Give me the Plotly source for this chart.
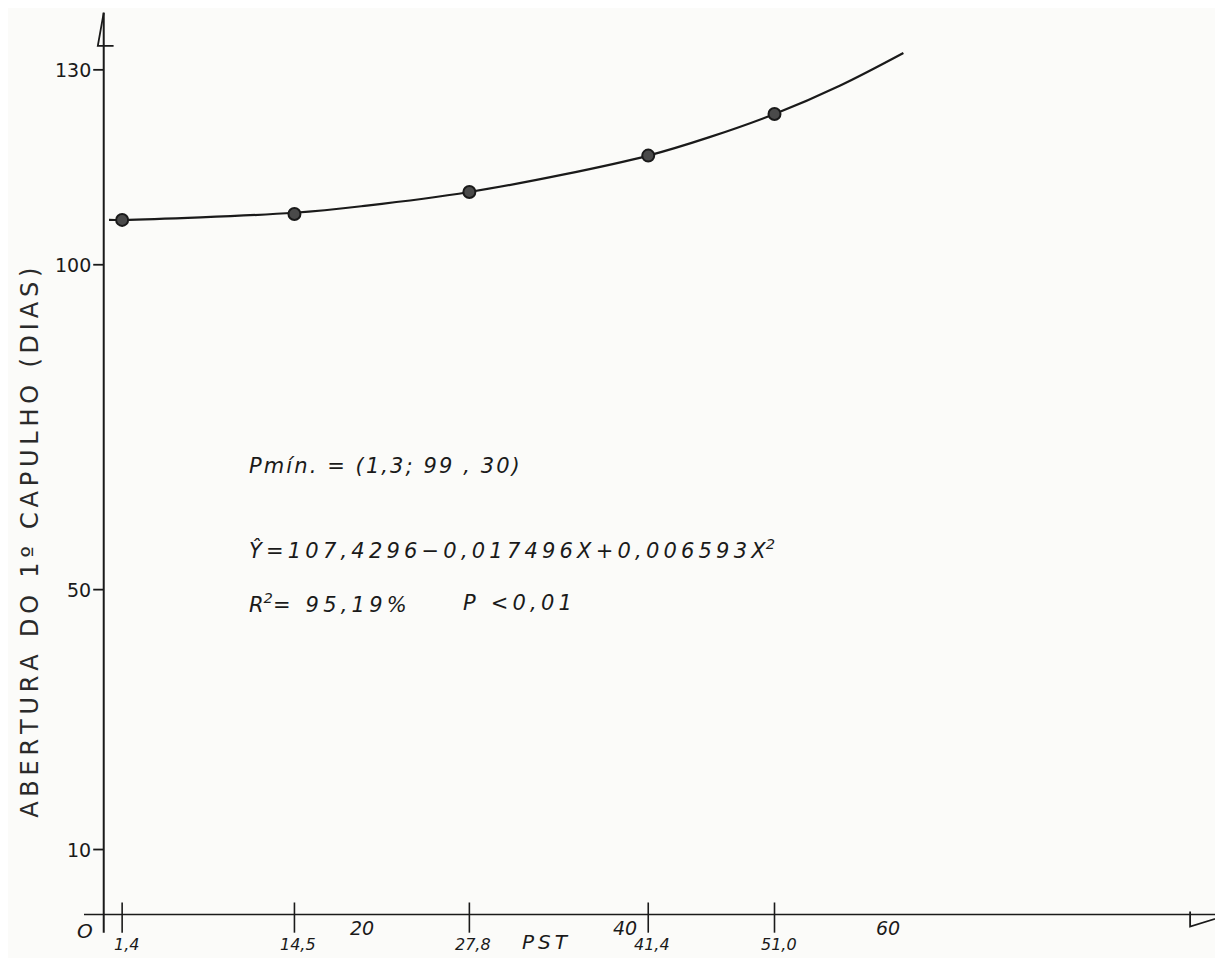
import plotly.graph_objects as go

# ---- data ----
pst = [1.4, 14.5, 27.8, 41.4, 51.0]
pst_labels = ["1,4", "14,5", "27,8", "41,4", "51,0"]
dias = [106.9, 107.8, 111.2, 116.8, 123.2]

curve_x = [0.4, 1.4, 14.5, 20.0, 27.8, 35.0, 41.4, 46.0, 51.0, 56.0, 60.8]
curve_y = [106.9, 106.9, 108.0, 109.1, 111.2, 113.9, 116.8, 119.6, 123.2, 127.6, 132.6]

y_ticks = [10, 50, 100, 130]
y_tick_labels = ["10", "50", "100", "130"]
x_round = [20, 40, 60]
x_round_labels = ["20", "40", "60"]

FONT = "DejaVu Sans"
INK = "#1a1a1a"
THIN = "\u2009"
HAIR = "\u200a"


def sp(s, gap=THIN):
    return gap.join(list(s))


fig = go.Figure()

fig.add_trace(go.Scatter(
    x=curve_x, y=curve_y, mode="lines",
    line=dict(color=INK, width=2.2, shape="spline", smoothing=1.0),
    hoverinfo="skip", showlegend=False))

fig.add_trace(go.Scatter(
    x=pst, y=dias, mode="markers",
    marker=dict(size=12, color="#4a4a4a", line=dict(color=INK, width=2)),
    showlegend=False))

shapes = []
# axes
shapes.append(dict(type="line", xref="x", yref="y", x0=-1.5, y0=0, x1=85.1, y1=0,
                   line=dict(color=INK, width=1.6)))
shapes.append(dict(type="line", xref="x", yref="y", x0=0, y0=-2.8, x1=0, y1=138.8,
                   line=dict(color=INK, width=2)))
# arrow heads (half arrows, hand drawn style)
shapes.append(dict(type="path", xref="x", yref="y",
                   path="M 82.6 0.45 L 82.6 -1.85 L 85.1 -0.3",
                   line=dict(color=INK, width=1.8)))
shapes.append(dict(type="path", xref="x", yref="y",
                   path="M 0 138.8 L -0.45 133.7 L 0.75 133.7",
                   line=dict(color=INK, width=1.8)))
# x tick marks crossing the axis
for xv in pst:
    shapes.append(dict(type="line", xref="x", yref="y", x0=xv, y0=1.85, x1=xv, y1=-2.8,
                       line=dict(color=INK, width=1.6)))
# y tick marks
for yv in y_ticks:
    shapes.append(dict(type="line", xref="x", yref="y", x0=-0.8, y0=yv, x1=0, y1=yv,
                       line=dict(color=INK, width=1.8)))

ann = []
for yv, lab in zip(y_ticks, y_tick_labels):
    ann.append(dict(x=-0.85, y=yv, xref="x", yref="y", text=lab, showarrow=False,
                    xanchor="right", yanchor="middle",
                    font=dict(family=FONT, size=19, color=INK)))
for xv, lab in zip(pst, pst_labels):
    ann.append(dict(x=xv, y=-2.9, xref="x", yref="y", text=f"<i>{lab}</i>", showarrow=False,
                    xanchor="center", yanchor="middle", xshift=4, yshift=-11,
                    font=dict(family=FONT, size=16, color=INK)))
for xv, lab in zip(x_round, x_round_labels):
    ann.append(dict(x=xv, y=-2.0, xref="x", yref="y", text=f"<i>{lab}</i>", showarrow=False,
                    xanchor="center", yanchor="middle", xshift=-5,
                    font=dict(family=FONT, size=19, color=INK)))
ann.append(dict(x=-1.45, y=-2.6, xref="x", yref="y", text="<i>O</i>", showarrow=False,
                xanchor="center", yanchor="middle",
                font=dict(family=FONT, size=20, color=INK)))
ann.append(dict(x=33.6, y=-2.9, xref="x", yref="y", text="<i>" + sp("PST") + "</i>",
                showarrow=False, xanchor="center", yanchor="middle", yshift=-9,
                font=dict(family=FONT, size=20, color=INK)))

# y axis title (anchored at the left edge of the plot, shifted into the margin)
ann.append(dict(x=-1.5, y=57.2, xref="x", yref="y",
                text=sp("ABERTURA DO 1º CAPULHO (DIAS)", THIN),
                showarrow=False, textangle=-90, xanchor="center", yanchor="middle",
                xshift=-54,
                font=dict(family=FONT, size=24, color="#2a2a2a")))

# equation block
ann.append(dict(x=10.9, y=69.0, xref="x", yref="y",
                text="<i>" + sp("Pmín. = (1,3; 99 , 30)", HAIR) + "</i>",
                showarrow=False, xanchor="left", yanchor="middle",
                font=dict(family=FONT, size=21, color=INK)))
ann.append(dict(x=10.9, y=56.3, xref="x", yref="y",
                text="<i>" + sp("Ŷ=107,4296−0,017496X+0,006593X") + "<sup>2</sup></i>",
                showarrow=False, xanchor="left", yanchor="middle",
                font=dict(family=FONT, size=21, color=INK)))
ann.append(dict(x=10.9, y=48.0, xref="x", yref="y",
                text="<i>R<sup>2</sup>" + sp("= 95,19%") + "</i>",
                showarrow=False, xanchor="left", yanchor="middle",
                font=dict(family=FONT, size=21, color=INK)))
ann.append(dict(x=27.2, y=48.0, xref="x", yref="y",
                text="<i>" + sp("P <0,01") + "</i>",
                showarrow=False, xanchor="left", yanchor="middle",
                font=dict(family=FONT, size=21, color=INK)))

# The page body adds an 8px margin; size the figure so the plot lands where the reference has it.
fig.update_layout(
    width=1215, height=950,
    margin=dict(l=76, r=0, t=4, b=24),
    paper_bgcolor="#fbfbf9", plot_bgcolor="#fbfbf9",
    xaxis=dict(range=[-1.5, 85.1], visible=False, fixedrange=True),
    yaxis=dict(range=[-3, 138.9], visible=False, fixedrange=True),
    shapes=shapes, annotations=ann, showlegend=False,
)

fig.write_html("out.html")
